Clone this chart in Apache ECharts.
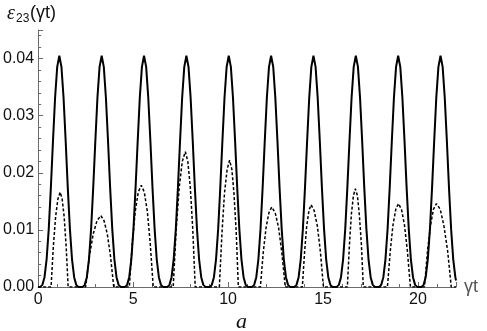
<!DOCTYPE html>
<html><head><meta charset="utf-8">
<script src="https://cdn.jsdelivr.net/npm/echarts@6/dist/echarts.min.js"></script>
<style>html,body{margin:0;padding:0;background:#fff}#c{width:487px;height:331px}</style>
</head><body><div id="c"></div>
<script>
// x tick labels and y tick labels
const xTickLabels = ['0', '5', '10', '15', '20'];
const yTickLabels = ['0.00', '0.01', '0.02', '0.03', '0.04'];

// solid curve: time samples
const solidT = [
  0, 0.112, 0.223, 0.335, 0.446, 0.558, 0.669, 0.781, 0.892, 1.004, 1.115, 1.227, 1.338, 1.450, 1.561, 1.673, 1.784, 1.896, 2.007, 2.119,
  2.230, 2.342, 2.453, 2.565, 2.676, 2.788, 2.899, 3.011, 3.122, 3.234, 3.345, 3.457, 3.568, 3.680, 3.791, 3.903, 4.014, 4.126, 4.237, 4.349,
  4.460, 4.572, 4.683, 4.795, 4.906, 5.018, 5.129, 5.241, 5.352, 5.464, 5.575, 5.687, 5.798, 5.910, 6.021, 6.133, 6.244, 6.356, 6.467, 6.579,
  6.690, 6.802, 6.913, 7.025, 7.136, 7.248, 7.359, 7.471, 7.582, 7.694, 7.805, 7.917, 8.028, 8.140, 8.251, 8.363, 8.474, 8.586, 8.697, 8.809,
  8.920, 9.032, 9.143, 9.255, 9.366, 9.478, 9.589, 9.701, 9.812, 9.924, 10.035, 10.147, 10.258, 10.370, 10.481, 10.593, 10.704, 10.816, 10.927, 11.039,
  11.150, 11.262, 11.373, 11.485, 11.596, 11.708, 11.819, 11.931, 12.042, 12.154, 12.265, 12.377, 12.488, 12.600, 12.711, 12.823, 12.934, 13.046, 13.157, 13.269,
  13.380, 13.492, 13.603, 13.715, 13.826, 13.938, 14.049, 14.161, 14.272, 14.384, 14.495, 14.607, 14.718, 14.830, 14.941, 15.053, 15.164, 15.276, 15.387, 15.499,
  15.610, 15.722, 15.833, 15.945, 16.056, 16.168, 16.279, 16.391, 16.502, 16.614, 16.725, 16.837, 16.948, 17.060, 17.171, 17.283, 17.394, 17.506, 17.617, 17.729,
  17.840, 17.952, 18.063, 18.175, 18.286, 18.398, 18.509, 18.621, 18.732, 18.844, 18.955, 19.067, 19.178, 19.290, 19.401, 19.513, 19.624, 19.736, 19.847, 19.959,
  20.070, 20.182, 20.293, 20.405, 20.516, 20.628, 20.739, 20.851, 20.962, 21.074, 21.185, 21.297, 21.408, 21.520, 21.631, 21.743, 21.854, 21.966, 22.0
];
// solid curve: entanglement values
const solidE = [
  0, 0.00002, 0.00037, 0.00172, 0.00484, 0.01013, 0.01735, 0.02553, 0.03313, 0.03854, 0.0405, 0.03854, 0.03313, 0.02553, 0.01735, 0.01013, 0.00484, 0.00172, 0.00037, 0.00002,
  0, 0.00002, 0.00037, 0.00172, 0.00484, 0.01013, 0.01735, 0.02553, 0.03313, 0.03854, 0.0405, 0.03854, 0.03313, 0.02553, 0.01735, 0.01013, 0.00484, 0.00172, 0.00037, 0.00002,
  0, 0.00002, 0.00037, 0.00172, 0.00484, 0.01013, 0.01735, 0.02553, 0.03313, 0.03854, 0.0405, 0.03854, 0.03313, 0.02553, 0.01735, 0.01013, 0.00484, 0.00172, 0.00037, 0.00002,
  0, 0.00002, 0.00037, 0.00172, 0.00484, 0.01013, 0.01735, 0.02553, 0.03313, 0.03854, 0.0405, 0.03854, 0.03313, 0.02553, 0.01735, 0.01013, 0.00484, 0.00172, 0.00037, 0.00002,
  0, 0.00002, 0.00037, 0.00172, 0.00484, 0.01013, 0.01735, 0.02553, 0.03313, 0.03854, 0.0405, 0.03854, 0.03313, 0.02553, 0.01735, 0.01013, 0.00484, 0.00172, 0.00037, 0.00002,
  0, 0.00002, 0.00037, 0.00172, 0.00484, 0.01013, 0.01735, 0.02553, 0.03313, 0.03854, 0.0405, 0.03854, 0.03313, 0.02553, 0.01735, 0.01013, 0.00484, 0.00172, 0.00037, 0.00002,
  0, 0.00002, 0.00037, 0.00172, 0.00484, 0.01013, 0.01735, 0.02553, 0.03313, 0.03854, 0.0405, 0.03854, 0.03313, 0.02553, 0.01735, 0.01013, 0.00484, 0.00172, 0.00037, 0.00002,
  0, 0.00002, 0.00037, 0.00172, 0.00484, 0.01013, 0.01735, 0.02553, 0.03313, 0.03854, 0.0405, 0.03854, 0.03313, 0.02553, 0.01735, 0.01013, 0.00484, 0.00172, 0.00037, 0.00002,
  0, 0.00002, 0.00037, 0.00172, 0.00484, 0.01013, 0.01735, 0.02553, 0.03313, 0.03854, 0.0405, 0.03854, 0.03313, 0.02553, 0.01735, 0.01013, 0.00484, 0.00172, 0.00037, 0.00002,
  0, 0.00002, 0.00037, 0.00172, 0.00484, 0.01013, 0.01735, 0.02553, 0.03313, 0.03854, 0.0405, 0.03854, 0.03313, 0.02553, 0.01735, 0.01013, 0.00484, 0.00172, 0.00114
];

// dashed curve: time samples
const dashedT = [
  0,
  0.68, 0.80, 0.92, 1.04, 1.16, 1.265, 1.37, 1.475, 1.58,
  2.50, 2.70, 2.90, 3.10, 3.30, 3.47, 3.64, 3.81, 3.98,
  4.80, 4.96, 5.11, 5.27, 5.43, 5.59, 5.75, 5.90, 6.06,
  7.11, 7.27, 7.43, 7.59, 7.75, 7.88, 8.01, 8.14, 8.27,
  9.54, 9.68, 9.81, 9.95, 10.08, 10.20, 10.31, 10.43, 10.54,
  11.70, 11.85, 12.00, 12.15, 12.30, 12.48, 12.66, 12.83, 13.01,
  13.91, 14.03, 14.14, 14.26, 14.37, 14.53, 14.70, 14.86, 15.02,
  16.28, 16.39, 16.49, 16.60, 16.70, 16.81, 16.91, 17.02, 17.12,
  18.39, 18.54, 18.68, 18.83, 18.97, 19.13, 19.29, 19.44, 19.60,
  20.34, 20.50, 20.66, 20.81, 20.97, 21.17, 21.36, 21.56, 21.75,
  22.0
];
// dashed curve: entanglement values
const dashedE = [
  0,
  0, 0.0071, 0.0123, 0.0154, 0.0166, 0.0154, 0.0123, 0.0071, 0,
  0, 0.0054, 0.0093, 0.0116, 0.0125, 0.0116, 0.0093, 0.0054, 0,
  0, 0.0077, 0.0132, 0.0166, 0.0178, 0.0166, 0.0132, 0.0077, 0,
  0, 0.0102, 0.0175, 0.0220, 0.0237, 0.0220, 0.0175, 0.0102, 0,
  0, 0.0095, 0.0164, 0.0206, 0.0222, 0.0206, 0.0164, 0.0095, 0,
  0, 0.0060, 0.0104, 0.0130, 0.0140, 0.0130, 0.0104, 0.0060, 0,
  0, 0.0062, 0.0107, 0.0134, 0.0144, 0.0134, 0.0107, 0.0062, 0,
  0, 0.0074, 0.0127, 0.0160, 0.0172, 0.0160, 0.0127, 0.0074, 0,
  0, 0.0063, 0.0108, 0.0136, 0.0146, 0.0136, 0.0108, 0.0063, 0,
  0, 0.0063, 0.0108, 0.0136, 0.0146, 0.0136, 0.0108, 0.0063, 0,
  0
];

const solidData = solidT.map((t, i) => [t, solidE[i]]);
const dashedData = dashedT.map((t, i) => [t, dashedE[i]]);

const axisGray = '#6a6a6a';
const labelFont = 'Liberation Sans';

const chart = echarts.init(document.getElementById('c'), null, { renderer: 'canvas' });
chart.setOption({
  animation: false,
  backgroundColor: '#fff',
  grid: { left: 38, right: 31, top: 30, bottom: 44, containLabel: false },
  xAxis: {
    type: 'value', min: 0, max: 22, interval: 5,
    axisLine: { onZero: false, lineStyle: { color: axisGray, width: 1 } },
    axisTick: { inside: true, length: 5, lineStyle: { color: axisGray } },
    minorTick: { show: true, splitNumber: 5, length: 3, lineStyle: { color: axisGray } },
    splitLine: { show: false },
    axisLabel: {
      margin: 5, fontSize: 16, color: '#111', fontFamily: labelFont,
      showMaxLabel: false,
      formatter: v => { const i = Math.round(v / 5); return (Math.abs(v - i * 5) < 1e-9 && xTickLabels[i] !== undefined) ? xTickLabels[i] : ''; }
    },
    name: 'γt', nameLocation: 'end', nameGap: 8,
    nameTextStyle: { fontSize: 18, color: '#555', fontFamily: labelFont, verticalAlign: 'middle' }
  },
  yAxis: {
    type: 'value', min: 0, max: 0.045, interval: 0.01,
    axisLine: { onZero: false, lineStyle: { color: axisGray, width: 1 } },
    axisTick: { inside: true, length: 5, lineStyle: { color: axisGray } },
    minorTick: { show: true, splitNumber: 5, length: 3, lineStyle: { color: axisGray } },
    splitLine: { show: false },
    axisLabel: {
      margin: 4, fontSize: 16, color: '#111', fontFamily: labelFont,
      showMaxLabel: false,
      formatter: v => { const i = Math.round(v / 0.01); return (Math.abs(v - i * 0.01) < 1e-9 && yTickLabels[i] !== undefined) ? yTickLabels[i] : ''; }
    }
  },
  graphic: [
    { type: 'text', left: 7, top: 4, style: { text: 'ε', font: 'italic 20px "Liberation Serif"', fill: '#111' } },
    { type: 'text', left: 16, top: 13, style: { text: '23', font: '12px "Liberation Sans"', fill: '#111' } },
    { type: 'text', left: 30, top: 4, style: { text: '(γt)', font: '18px "Liberation Sans"', fill: '#111' } },
    { type: 'text', left: 236, top: 311, style: { text: 'a', font: 'italic 22px "Liberation Serif"', fill: '#111' } }
  ],
  series: [
    {
      type: 'line', data: solidData, showSymbol: false, clip: true,
      lineStyle: { color: '#000', width: 2 }
    },
    {
      type: 'line', data: dashedData, showSymbol: false, clip: true,
      lineStyle: { color: '#000', width: 1.5, type: [3, 2] }
    }
  ]
});
</script>
</body></html>
